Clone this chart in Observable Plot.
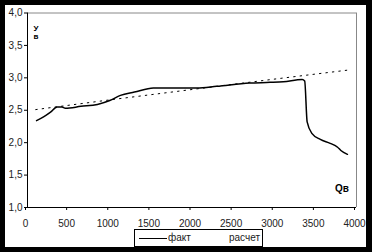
<!DOCTYPE html>
<html><head><meta charset="utf-8">
<script src="https://cdn.jsdelivr.net/npm/d3@7"></script>
<script src="https://cdn.jsdelivr.net/npm/@observablehq/plot@0.6"></script>
<style>
html,body{margin:0;padding:0;background:#000;width:372px;height:252px;overflow:hidden;}
#wrap{position:absolute;left:5px;top:5px;width:361px;height:242px;background:#fff;font-family:"Liberation Sans",Arial,sans-serif;}
#chart{position:absolute;left:0;top:0;}
#chart svg{overflow:visible;}
#ylab{position:absolute;left:27px;top:20px;font-size:8px;font-weight:bold;line-height:8px;text-align:center;width:8px;color:#000;}
#xlab{position:absolute;left:330px;top:178px;font-size:10px;font-weight:bold;color:#000;}
#legend{position:absolute;left:129px;top:224px;width:127px;height:16px;border:1px solid #000;background:#fff;font-size:10px;color:#222;}
#legend .sw1{position:absolute;left:4px;top:8px;width:28px;border-top:1px solid #000;}
#legend .t1{position:absolute;left:33px;top:2px;}
#legend .t2{position:absolute;left:94px;top:2px;}
</style></head>
<body>
<div id="wrap">
<div id="chart"></div>
<div id="ylab">У<br>в</div>
<div id="xlab">Qв</div>
<div id="legend"><div class="sw1"></div><span class="t1">факт</span><span class="t2">расчет</span></div>
</div>
<script>
const factQ = [110, 200, 280, 360, 420, 460, 650, 850, 1000, 1130, 1300, 1530, 1800, 2060, 2300, 2700, 2950, 3110, 3340, 3370, 3400, 3460, 3560, 3680, 3770, 3810, 3890];
const factV = [2.34, 2.40, 2.47, 2.55, 2.55, 2.53, 2.56, 2.59, 2.65, 2.73, 2.78, 2.845, 2.845, 2.845, 2.87, 2.92, 2.93, 2.94, 2.975, 2.95, 2.32, 2.14, 2.05, 1.99, 1.93, 1.88, 1.82];
const calcQ = [100, 1000, 2000, 3000, 3900];
const calcV = [2.51, 2.66, 2.82, 2.98, 3.12];
const xTicks = [0, 500, 1000, 1500, 2000, 2500, 3000, 3500, 4000];
const yTicks = [1.0, 1.5, 2.0, 2.5, 3.0, 3.5, 4.0];

const fact = factQ.map((q, i) => ({q, v: factV[i]}));
const calc = calcQ.map((q, i) => ({q, v: calcV[i]}));
const fmt = d => d3.format(".1f")(d).replace(".", ",");

const chart = Plot.plot({
  width: 361, height: 242,
  marginLeft: 22, marginRight: 10, marginTop: 7.5, marginBottom: 40,
  style: {fontFamily: "'Liberation Sans', Arial, sans-serif", fontSize: "10px", color: "#222", background: "transparent", overflow: "visible"},
  x: {domain: [0, 4000], ticks: xTicks, tickFormat: d => String(d), label: null},
  y: {domain: [1, 4], ticks: yTicks, tickFormat: fmt, label: null},
  marks: [
    Plot.ruleY([4], {stroke: "#888", strokeWidth: 1}),
    Plot.ruleX([4000], {stroke: "#888", strokeWidth: 1}),
    Plot.axisX({ticks: xTicks, tickFormat: d => String(d), tickSize: 3, tickPadding: 9, dx: -2, stroke: "#000", strokeOpacity: 1, label: null}),
    Plot.axisY({ticks: yTicks, tickFormat: fmt, tickSize: 3, tickPadding: 2, stroke: "#000", strokeOpacity: 1, label: null}),
    Plot.ruleX([0], {stroke: "#000"}),
    Plot.ruleY([1], {stroke: "#000"}),
    Plot.line(calc, {x: "q", y: "v", stroke: "#000", strokeWidth: 1, strokeDasharray: "1.5,5"}),
    Plot.line(fact, {x: "q", y: "v", stroke: "#000", strokeWidth: 1.5, curve: "monotone-x"})
  ]
});
document.getElementById("chart").appendChild(chart);
</script>
</body></html>
